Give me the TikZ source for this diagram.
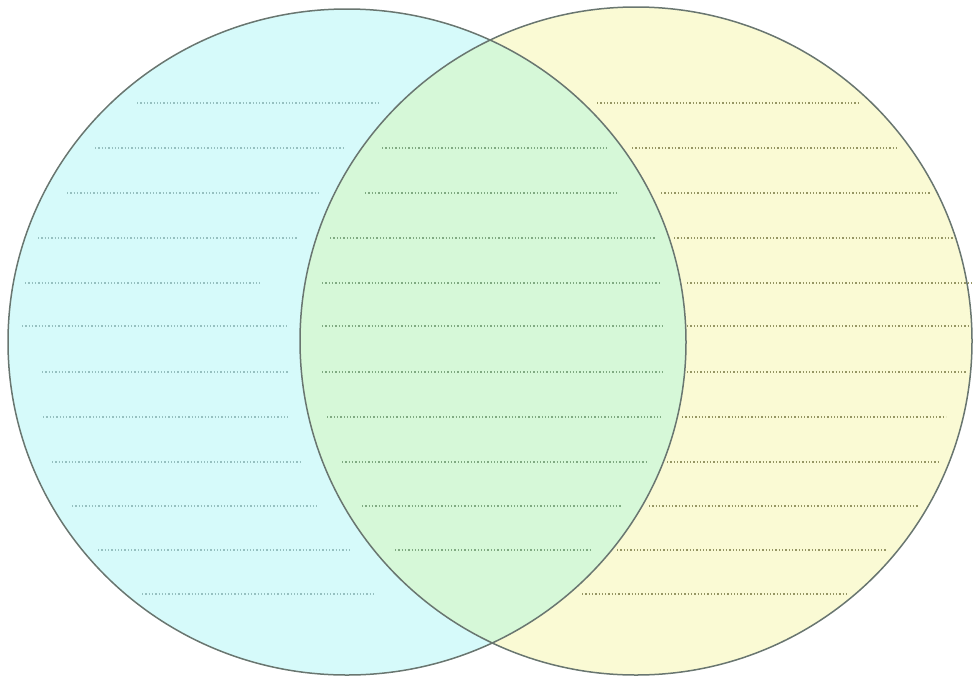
\documentclass[tikz,border=0pt]{standalone}
\usepackage{xcolor}
\usepackage{tikz}
\usetikzlibrary{calc}

\definecolor{leftfill}{RGB}{214,250,250}
\definecolor{rightfill}{RGB}{250,250,212}
\definecolor{midfill}{RGB}{214,248,216}
\definecolor{rim}{RGB}{105,118,112}
\definecolor{leftdot}{RGB}{150,192,192}
\definecolor{middot}{RGB}{128,170,130}
\definecolor{rightdot}{RGB}{150,150,100}

\begin{document}
\begin{tikzpicture}[
    x=1pt, y=-1pt,
    rimline/.style={draw=rim, line width=1.5pt},
    dotline/.style={dotted, line width=1.3pt}
]
\useasboundingbox (0,0) rectangle (974,678);

% centres
\coordinate (cl) at (347,342);
\coordinate (cr) at (636,341);

% fills
\fill[leftfill] (cl) ellipse [x radius=339, y radius=333];
\fill[rightfill] (cr) ellipse [x radius=336, y radius=334];
\begin{scope}
  \clip (cl) ellipse [x radius=339, y radius=333];
  \fill[midfill] (cr) ellipse [x radius=336, y radius=334];
\end{scope}

% writing lines, left part
\foreach \y/\a/\b in {103/137/378, 148/95/343, 193/67/320, 238/38/297,
    283/25/260, 326/22/287, 372/42/288, 417/43/288, 462/52/302,
    506/72/317, 550/98/350, 594/142/375}
  \draw[dotline, leftdot] (\a,\y) -- (\b,\y);

% writing lines, overlap
\foreach \y/\a/\b in {148/382/607, 193/365/617, 238/330/656, 283/322/661,
    326/322/662, 372/322/662, 417/327/661, 462/342/646, 506/362/621,
    550/395/591}
  \draw[dotline, middot] (\a,\y) -- (\b,\y);

% writing lines, right part
\foreach \y/\a/\b in {103/597/860, 148/632/899, 193/661/931, 238/674/956,
    283/687/971, 326/687/971, 372/687/967, 417/682/946, 462/667/939,
    506/649/919, 550/617/887, 594/582/849}
  \draw[dotline, rightdot] (\a,\y) -- (\b,\y);

% outlines
\draw[rimline] (cl) ellipse [x radius=339, y radius=333];
\draw[rimline] (cr) ellipse [x radius=336, y radius=334];

\end{tikzpicture}
\end{document}
